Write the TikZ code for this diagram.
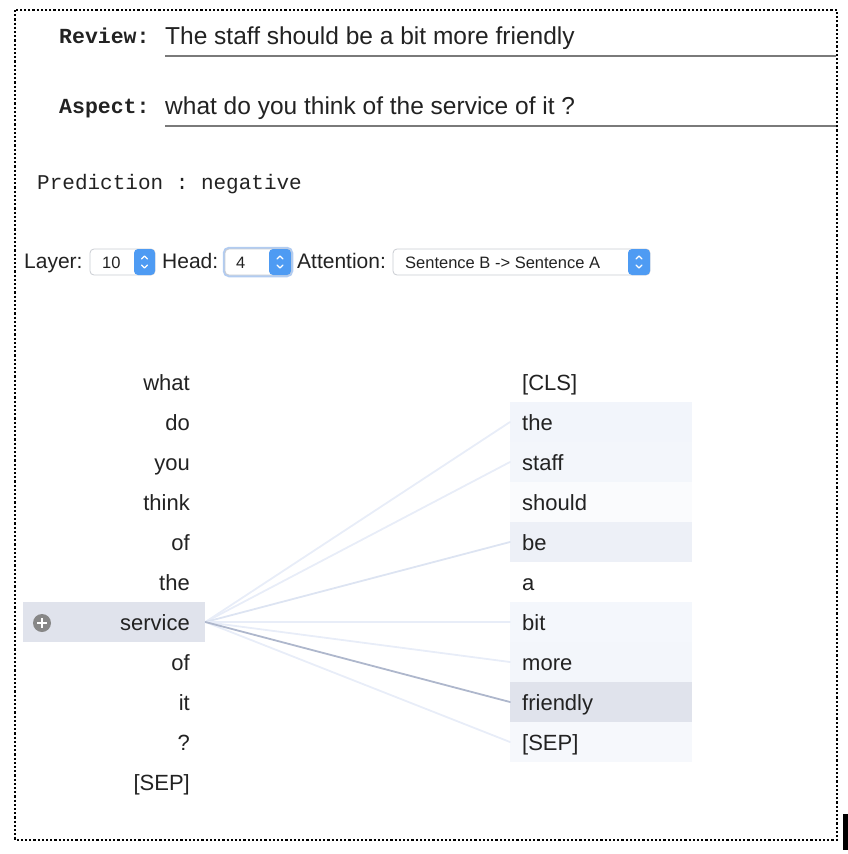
\documentclass[tikz,border=0pt]{standalone}
\usepackage{fontspec}
\setmainfont{Liberation Sans}
\setmonofont{Liberation Mono}
\definecolor{txt}{HTML}{222222}
\definecolor{hl}{HTML}{E0E3EC}
\definecolor{macblue}{HTML}{4E9BF3}
\definecolor{boxline}{HTML}{C9CCD2}
\definecolor{focus}{HTML}{7FAAE8}
\definecolor{ulc}{HTML}{7A7A7A}
\definecolor{lightln}{HTML}{E8EDF8}
\definecolor{midln}{HTML}{DDE4F2}
\definecolor{darkln}{HTML}{AEB7CC}
\begin{document}
\begin{tikzpicture}[x=1pt,y=-1pt,
  tok/.style={font=\fontsize{22}{26}\selectfont, text=txt, inner sep=0pt},
  ctl/.style={font=\fontsize{21}{25}\selectfont, text=txt, inner sep=0pt, anchor=base west},
  small/.style={font=\fontsize{16.5}{20}\selectfont, text=txt, inner sep=0pt, anchor=base west},
  mono/.style={font=\ttfamily\fontsize{21}{25}\selectfont, text=txt, inner sep=0pt, anchor=base west},
  field/.style={font=\fontsize{24.5}{28}\selectfont, text=txt, inner sep=0pt, anchor=base west},
  rowbox/.style={minimum width=182pt, minimum height=40pt, inner sep=0pt, anchor=west, draw=none},
  att/.style={line width=1.8pt, line cap=round},
  chev/.style={draw=white, line width=1.2pt, line cap=round, line join=round},
  ctlbox/.style={draw=boxline, fill=white, rounded corners=4pt, line width=0.8pt},
]
\useasboundingbox (0,0) rectangle (848,854);
% frame
\draw[line width=2.4pt, dash pattern=on 2.2pt off 2pt] (15,10) rectangle (837,840);
\fill[black] (843,814) rectangle (848,850);

% review / aspect
\node[mono, font=\ttfamily\bfseries\fontsize{21.5}{25}\selectfont] (revlab) at (59,43) {Review:};
\node[field] (revtxt) at (165,44) {The staff should be a bit more friendly};
\draw[ulc, line width=1.5pt] (165,56) -- (836,56);
\node[mono, font=\ttfamily\bfseries\fontsize{21.5}{25}\selectfont] (asplab) at (59,113) {Aspect:};
\node[field] (asptxt) at (165,114) {what do you think of the service of it ?};
\draw[ulc, line width=1.5pt] (165,126) -- (836,126);

% prediction
\node[mono] (pred) at (37,189) {Prediction : negative};

% controls
\node[ctl] (layerlab) at (24,268) {Layer:};
\draw[ctlbox] (90,249) rectangle (155,275);
\fill[macblue, rounded corners=4pt] (134,249) rectangle (155,275);
\node[small] (layerval) at (102,268) {10};
\draw[chev] (141.5,259) -- (144.5,256) -- (147.5,259);
\draw[chev] (141.5,265) -- (144.5,268) -- (147.5,265);

\node[ctl] (headlab) at (162,268) {Head:};
\draw[focus, line width=2.5pt, rounded corners=5pt, opacity=0.6] (224,248) rectangle (292,276);
\draw[ctlbox] (225,249) rectangle (291,275);
\fill[macblue, rounded corners=4pt] (269,249) rectangle (291,275);
\node[small] (headval) at (236,268) {4};
\draw[chev] (277,259) -- (280,256) -- (283,259);
\draw[chev] (277,265) -- (280,268) -- (283,265);

\node[ctl] (attlab) at (297,268) {Attention:};
\draw[ctlbox] (393,249) rectangle (650,275);
\fill[macblue, rounded corners=4pt] (628,249) rectangle (650,275);
\node[small] (attval) at (405,268) {Sentence B -> Sentence A};
\draw[chev] (636,259) -- (639,256) -- (642,259);
\draw[chev] (636,265) -- (639,268) -- (642,265);

% left highlight (service)
\node[rowbox, fill=hl] (lsvc) at (23,622) {};
\fill[black!47] (42,623) circle (9);
\draw[white, line width=2.6pt] (37,623) -- (47,623) (42,618) -- (42,628);

% right row boxes
\foreach \i/\c in {1/white,2/{rgb,255:red,242;green,245;blue,251},3/{rgb,255:red,243;green,246;blue,251},4/{rgb,255:red,250;green,251;blue,253},5/{rgb,255:red,237;green,240;blue,247},6/white,7/{rgb,255:red,244;green,247;blue,252},8/{rgb,255:red,243;green,246;blue,251},9/hl,10/{rgb,255:red,246;green,248;blue,252}}{
  \node[rowbox, fill={\c}] (r\i) at (510,{382+40*(\i-1)}) {};
}

% left tokens
\foreach \i/\w in {1/what,2/do,3/you,4/think,5/of,6/the,7/service,8/of,9/it,10/?,11/[SEP]}{
  \node[tok, anchor=base east] (l\i) at (190,{382+40*(\i-1)+8}) {\w};
}
% right tokens
\foreach \i/\w in {1/[CLS],2/the,3/staff,4/should,5/be,6/a,7/bit,8/more,9/friendly,10/[SEP]}{
  \node[tok, anchor=base west] (t\i) at (522,{382+40*(\i-1)+8}) {\w};
}

% attention lines
\draw[att, draw=lightln] (lsvc.east) -- (r2.west);
\draw[att, draw=lightln] (lsvc.east) -- (r3.west);
\draw[att, draw=midln] (lsvc.east) -- (r5.west);
\draw[att, draw=lightln] (lsvc.east) -- (r7.west);
\draw[att, draw=lightln] (lsvc.east) -- (r8.west);
\draw[att, draw=lightln] (lsvc.east) -- (r10.west);
\draw[att, draw=darkln] (lsvc.east) -- (r9.west);
\end{tikzpicture}
\end{document}
